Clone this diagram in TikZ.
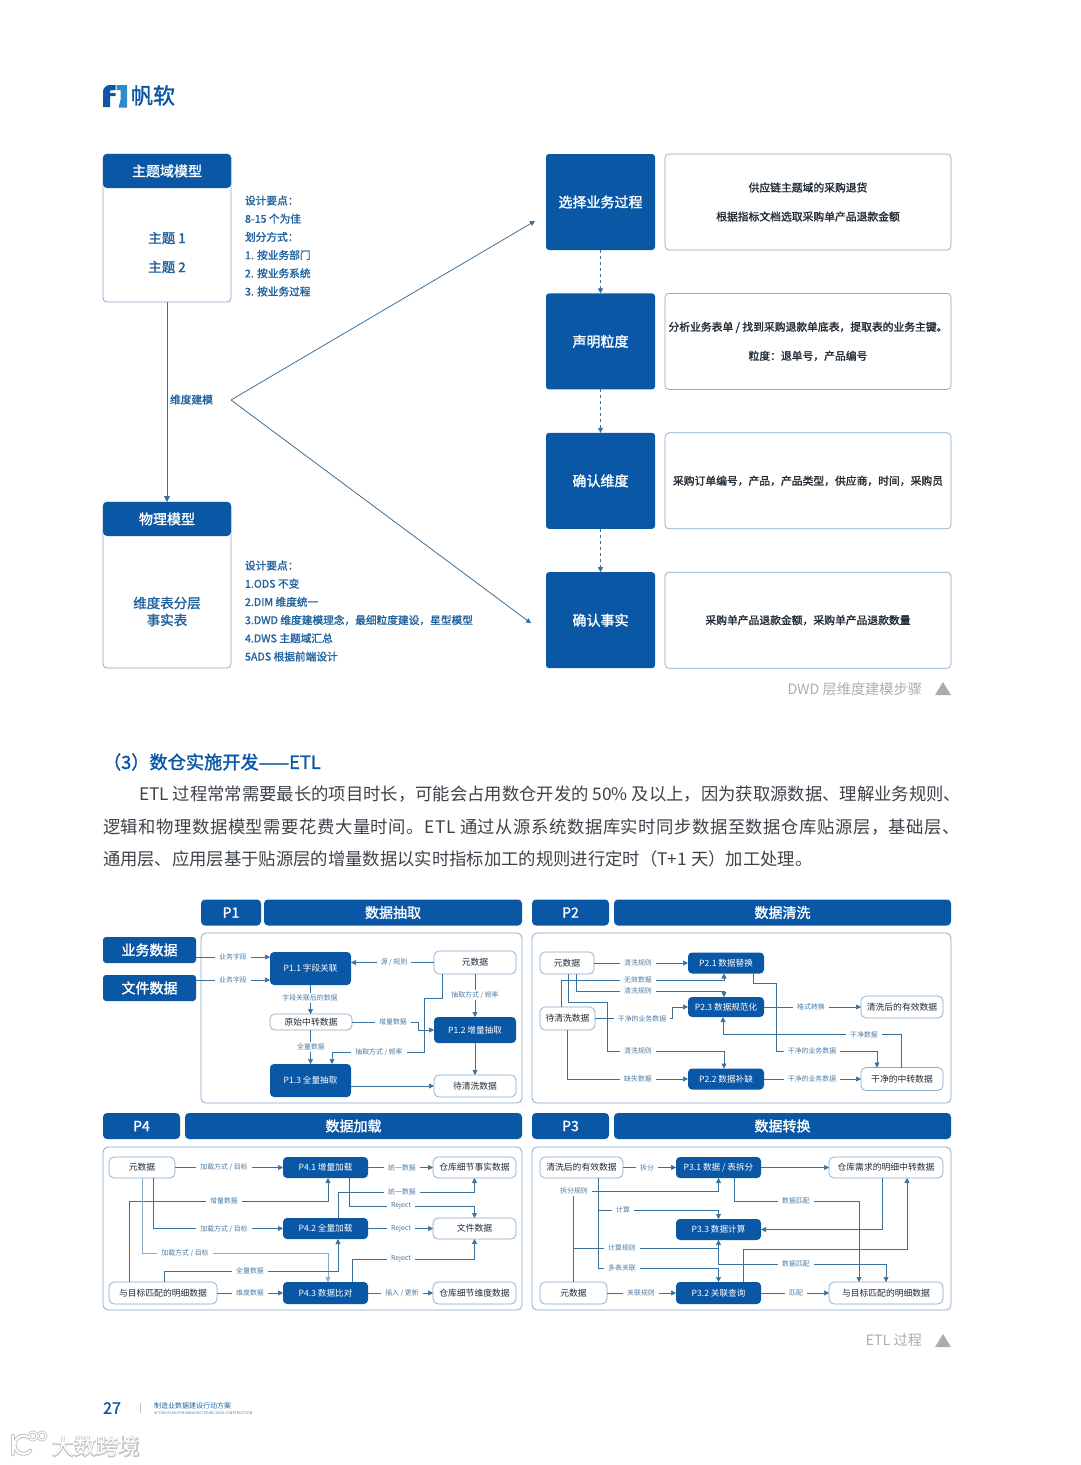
\documentclass[tikz,border=0pt]{standalone}
\usepackage{fontspec}
\setmainfont{Noto Sans CJK SC}
\newfontfamily\medfont[FakeBold=1.6]{Noto Sans CJK SC}
\newfontfamily\haloFont[FakeBold=6]{Noto Sans CJK SC}
\usetikzlibrary{positioning,arrows.meta}
\definecolor{brand}{HTML}{0A57A6}
\definecolor{brandlt}{HTML}{2E8BC9}
\definecolor{wire}{HTML}{3A7099}
\definecolor{edge}{HTML}{86ABCB}
\definecolor{note}{HTML}{22639F}
\definecolor{tag}{HTML}{4B7CA6}
\definecolor{inkd}{HTML}{232C34}
\definecolor{capt}{HTML}{A9ADB2}
\definecolor{copy}{HTML}{3D4248}
\definecolor{mark}{HTML}{C2C4C7}

\begin{document}
\begin{tikzpicture}[x=1pt,y=-1pt,
  outer sep=0pt,
  node distance=10pt,
  headbar/.style={fill=brand,rounded corners=4pt,text=white,font=\fontsize{14}{16}\selectfont\medfont},
  bodybox/.style={draw=edge,line width=0.8pt,fill=white,rounded corners=4pt},
  bodytxt/.style={text=note,align=center,font=\fontsize{13.5}{17}\selectfont\medfont},
  notes/.style={text=note,anchor=west,align=left,inner sep=0pt,font=\fontsize{10.7}{18.2}\selectfont\medfont},
  stepbox/.style={fill=brand,rounded corners=3pt,text=white,minimum width=109pt,minimum height=96pt,font=\fontsize{14}{16}\selectfont\medfont},
  infobox/.style={draw=edge,line width=0.7pt,rounded corners=4pt,minimum width=286pt,minimum height=96pt,align=center,text=inkd,font=\fontsize{10.8}{29}\selectfont\medfont},
  frame/.style={draw=edge,line width=0.8pt,rounded corners=5pt},
  srcbox/.style={headbar,rounded corners=3pt,minimum width=93pt,minimum height=26pt},
  prc/.style={fill=brand,rounded corners=4pt,text=white,font=\fontsize{8.6}{10}\selectfont},
  dat/.style={draw=edge,line width=0.7pt,fill=white,rounded corners=5pt,text=inkd,font=\fontsize{8.8}{10}\selectfont},
  lab/.style={fill=white,inner xsep=4pt,inner ysep=1.5pt,text=tag,font=\fontsize{6.9}{8}\selectfont},
  arr/.style={-{Triangle[length=6pt,width=6pt]},draw=wire,line width=0.8pt},
  flow/.style={-{Triangle[length=5pt,width=5pt]},draw=wire,line width=0.6pt},
  capnote/.style={text=capt,inner sep=0pt,font=\fontsize{14.2}{16}\selectfont},
  copyline/.style={text=copy,anchor=west,inner sep=0pt,font=\fontsize{17.33}{20}\selectfont}]
\useasboundingbox (0,0) rectangle (1080,1465);
% logo
\fill[brand] (103,107) -- (103,92) .. controls (103,88) and (106,85) .. (110,85) -- (115.5,85) -- (115.5,90) -- (110,90.5) -- (110,93) -- (115.5,93) -- (115.5,96) -- (110,96) -- (110,107) -- cycle;
\fill[brandlt] (116.5,85) -- (127,85) -- (127,107.5) -- (118.5,107.5) -- (120.5,100) -- (120.5,90) -- (116.5,90) -- cycle;
\node[anchor=west,inner sep=0pt,text=brand,font=\fontsize{22}{24}\selectfont\medfont] (brandname) at (131,95.5) {帆软};
% upper left
\node[bodybox,minimum width=128pt,minimum height=148pt] (topbody) at (167,228) {};
\node[headbar,minimum width=128pt,minimum height=34pt,anchor=north] (tophead) at (topbody.north) {主题域模型};
\node[bodytxt] (topic1) at (167,238) {主题 1};
\node[bodytxt] (topic2) at (167,267) {主题 2};
\node[notes] (topnotes) at (245,246) {设计要点：\\8-15 个为佳\\划分方式：\\1. 按业务部门\\2. 按业务系统\\3. 按业务过程};
\node[bodybox,minimum width=128pt,minimum height=166pt] (lowbody) at (167,585) {};
\node[headbar,minimum width=128pt,minimum height=34pt,anchor=north] (lowhead) at (lowbody.north) {物理模型};
\node[bodytxt] (lowtxt) at (167,611.5) {维度表分层\\事实表};
\node[notes] (lownotes) at (245,611) {设计要点：\\1.ODS 不变\\2.DIM 维度统一\\3.DWD 维度建模理念，最细粒度建设，星型模型\\4.DWS 主题域汇总\\5ADS 根据前端设计};
\draw[arr] (topbody) -- (lowhead);
\node[text=note,font=\fontsize{10.7}{12}\selectfont\medfont] (dimlab) at (191.5,399.5) {维度建模};
% steps
\node[stepbox] (proc) at (600.5,202) {选择业务过程};
\node[stepbox,below=43.4pt of proc] (grain) {声明粒度};
\node[stepbox,below=43.4pt of grain] (dims) {确认维度};
\node[stepbox,below=43.4pt of dims] (fact) {确认事实};
\node[infobox,right=of proc] (procinfo) {供应链主题域的采购退货\\根据指标文档选取采购单产品退款金额};
\node[infobox,right=of grain] (graininfo) {分析业务表单 / 找到采购退款单底表，提取表的业务主键。\\粒度：退单号，产品编号};
\node[infobox,right=of dims] (dimsinfo) {采购订单编号，产品，产品类型，供应商，时间，采购员};
\node[infobox,right=of fact] (factinfo) {采购单产品退款金额，采购单产品退款数量};
\draw[flow,dashed] (proc) -- (grain);
\draw[flow,dashed] (grain) -- (dims);
\draw[flow,dashed] (dims) -- (fact);
\coordinate (fork) at (231,400);
\coordinate (toproc) at ([xshift=-11pt,yshift=-19pt]proc.west);
\coordinate (tofact) at ([xshift=-15pt,yshift=-3pt]fact.west);
\draw[flow,line width=0.8pt] (fork) -- (toproc);
\draw[flow,line width=0.8pt] (fork) -- (tofact);
\node[capnote,anchor=east] (cap1) at (922,689) {DWD 层维度建模步骤};
\fill[capt] (935,695) -- (943,682) -- (951,695) -- cycle;
% text block
\node[anchor=west,inner sep=0pt,text=brand,font=\fontsize{18.2}{20}\selectfont\medfont] (etlhead) at (103,762) {（3）数仓实施开发——ETL};
\node[copyline] (line1) at (139,794) {ETL 过程常常需要最长的项目时长，可能会占用数仓开发的 50\% 及以上，因为获取源数据、理解业务规则、};
\node[copyline] (line2) at (103,827) {\addfontfeatures{LetterSpace=3.1}逻辑和物理数据模型需要花费大量时间。ETL 通过从源系统数据库实时同步数据至数据仓库贴源层，基础层、};
\node[copyline] (line3) at (103,859) {通用层、应用层基于贴源层的增量数据以实时指标加工的规则进行定时（T+1 天）加工处理。};
% P1
\node[headbar,minimum width=60pt,minimum height=26pt] (h1a) at (231,912.5) {P1};
\node[headbar,minimum width=258pt,minimum height=26pt] (h1b) at (393,912.5) {数据抽取};
\node[frame,minimum width=321pt,minimum height=170pt] (fr1) at (361.5,1018) {};
\node[srcbox] (biz) at (149.5,950) {业务数据};
\node[srcbox] (doc) at (149.5,988) {文件数据};
\node[prc,minimum width=81pt,minimum height=33pt] (p11) at (310.5,968.5) {P1.1 字段关联};
\node[dat,minimum width=82pt,minimum height=23pt] (m1) at (475,962.5) {元数据};
\node[dat,minimum width=82pt,minimum height=16pt] (raw) at (311,1022) {原始中转数据};
\node[prc,minimum width=82pt,minimum height=26pt] (p12) at (475,1030) {P1.2 增量抽取};
\node[prc,minimum width=81pt,minimum height=33pt] (p13) at (310.5,1080.5) {P1.3 全量抽取};
\node[dat,minimum width=82pt,minimum height=22pt] (wait) at (475,1086) {待清洗数据};
\draw[flow] ([yshift=-7pt]biz.east) -- ([yshift=11.5pt]p11.west);
\draw[flow] ([yshift=8pt]doc.east) -- ([yshift=-11.5pt]p11.west);
\draw[flow] (m1.west) -- ([yshift=6pt]p11.east);
\draw[flow] (p11.south) -- ([xshift=-0.5pt]raw.north);
\draw[flow] (m1.south) -- (p12.north);
\draw[flow] (raw.east) -- ++(66,0) |- (p12.west);
\draw[flow] ([xshift=-0.5pt]raw.south) -- (p13.north);
\draw[flow] ([xshift=-33pt]m1.south) -- ++(0,24) -- ++(-18,0) -- ++(0,54) -| ([xshift=21.5pt]p13.north);
\draw[flow] (p12.south) -- (wait.north);
\draw[flow] ([yshift=-5.5pt]p13.east) -- (wait.west);
\node[lab] (l11) at (233,957) {业务字段};
\node[lab] (l12) at (233,980) {业务字段};
\node[lab] (l13) at (394,962.5) {源 / 规则};
\node[lab] (l14) at (310,998) {字段关联后的数据};
\node[lab] (l15) at (475,995) {抽取方式 / 频率};
\node[lab] (l16) at (393,1022) {增量数据};
\node[lab] (l17) at (311,1047) {全量数据};
\node[lab] (l18) at (379,1052) {抽取方式 / 频率};
% P2
\node[headbar,minimum width=77pt,minimum height=26pt] (h2a) at (570.5,912.5) {P2};
\node[headbar,minimum width=337pt,minimum height=26pt] (h2b) at (782.5,912.5) {数据清洗};
\node[frame,minimum width=419pt,minimum height=170pt] (fr2) at (741.5,1018) {};
\node[dat,minimum width=54pt,minimum height=22pt] (m2) at (567,963) {元数据};
\node[dat,minimum width=55pt,minimum height=23pt] (wc) at (567.5,1018.5) {待清洗数据};
\node[prc,minimum width=76pt,minimum height=21pt] (p21) at (726,963) {P2.1 数据替换};
\node[prc,minimum width=76pt,minimum height=20pt] (p23) at (726,1007) {P2.3 数据规范化};
\node[prc,minimum width=76pt,minimum height=21pt] (p22) at (726,1079) {P2.2 数据补缺};
\node[dat,minimum width=82pt,minimum height=22pt] (clean) at (902,1007) {清洗后的有效数据};
\node[dat,minimum width=82pt,minimum height=23pt] (trans) at (902,1079) {干净的中转数据};
\draw[flow] (m2.east) -- (p21.west);
\draw[flow] ([xshift=-6.5pt]wc.north) -- ++(0,-27) -| ([xshift=-2pt]p21.south);
\draw[flow] ([xshift=9pt]m2.south) -- ++(0,17) -| ([xshift=-2pt]p23.north);
\draw[flow] ([xshift=1pt]m2.south) -- ++(0,28) -- ++(39,0) -- ++(0,49) -| ([xshift=-2pt]p22.north);
\draw[flow] (wc.east) -- ++(77,0) |- (p23.west);
\draw[flow] (wc.south) |- (p22.west);
\draw[flow] (p23.east) -- (clean.west);
\draw[flow] ([xshift=27pt]p21.south) -- ++(0,10) -- ++(23,0) -- ++(0,68) -| ([xshift=-25pt]trans.north);
\draw[flow] (p22.east) -- (trans.west);
\draw[flow] ([xshift=-1pt]trans.north) -- ++(0,-33) -| ([xshift=-3pt]p23.south);
\node[lab] (l21) at (638,963) {清洗规则};
\node[lab] (l22) at (638,980) {无效数据};
\node[lab] (l23) at (638,991) {清洗规则};
\node[lab] (l24) at (642,1019) {干净的业务数据};
\node[lab] (l25) at (638,1051) {清洗规则};
\node[lab] (l26) at (638,1079) {缺失数据};
\node[lab] (l27) at (811,1007) {格式转换};
\node[lab] (l28) at (864,1035) {干净数据};
\node[lab] (l29) at (812,1051) {干净的业务数据};
\node[lab] (l2a) at (812,1079) {干净的业务数据};
% P4
\node[headbar,minimum width=77pt,minimum height=26pt] (h4a) at (141.5,1126) {P4};
\node[headbar,minimum width=337pt,minimum height=26pt] (h4b) at (353.5,1126) {数据加载};
\node[frame,minimum width=419pt,minimum height=163pt] (fr4) at (312.5,1228.5) {};
\node[dat,minimum width=66pt,minimum height=21pt] (m4) at (142,1167.5) {元数据};
\node[prc,minimum width=85pt,minimum height=21pt] (p41) at (325.5,1167.5) {P4.1 增量加载};
\node[dat,minimum width=83pt,minimum height=21pt] (whfact) at (474.5,1167.5) {仓库细节事实数据};
\node[prc,minimum width=85pt,minimum height=21pt] (p42) at (325.5,1228.5) {P4.2 全量加载};
\node[dat,minimum width=83pt,minimum height=21pt] (fil) at (474.5,1228.5) {文件数据};
\node[dat,minimum width=108pt,minimum height=22pt] (tg4) at (163,1293) {与目标匹配的明细数据};
\node[prc,minimum width=85pt,minimum height=22pt] (p43) at (325.5,1293) {P4.3 数据比对};
\node[dat,minimum width=83pt,minimum height=22pt] (whdim) at (474.5,1293) {仓库细节维度数据};
\draw[flow] (m4.east) -- (p41.west);
\draw[flow] (p41.east) -- (whfact.west);
\draw[flow] ([xshift=-34pt]tg4.north) -- ++(0,-81) -| ([xshift=2.5pt]p41.south);
\draw[flow] ([xshift=11pt]m4.south) |- (p42.west);
\draw[flow,draw=edge] (m4.south) -- ++(0,75) -| ([xshift=2.5pt]p43.north);
\draw[flow] ([xshift=1pt]tg4.north) -- ++(0,-11) -| ([xshift=12.5pt]p42.south);
\draw[flow] (tg4.east) -- (p43.west);
\draw[flow] ([xshift=12.5pt]p42.north) -- ++(0,-26) -| (whfact.south);
\draw[flow] ([xshift=23.5pt]p41.south) -- ++(0,28) -| (fil.north);
\draw[flow] (p42.east) -- (fil.west);
\draw[flow] ([xshift=26.5pt]p43.north) -- ++(0,-23) -| (fil.south);
\draw[flow] (p43.east) -- (whdim.west);
\node[lab] (l41) at (224,1167.5) {加载方式 / 目标};
\node[lab] (l42) at (402,1167.5) {统一数据};
\node[lab] (l43) at (224,1201) {增量数据};
\node[lab] (l44) at (224,1229) {加载方式 / 目标};
\node[lab] (l45) at (185,1253) {加载方式 / 目标};
\node[lab] (l46) at (250,1271) {全量数据};
\node[lab] (l47) at (250,1293) {维度数据};
\node[lab] (l48) at (402,1192) {统一数据};
\node[lab] (l49) at (401,1206) {Reject};
\node[lab] (l4a) at (401,1229) {Reject};
\node[lab] (l4b) at (401,1259) {Reject};
\node[lab] (l4c) at (402,1293) {插入 / 更新};
% P3
\node[headbar,minimum width=77pt,minimum height=26pt] (h3a) at (570.5,1126) {P3};
\node[headbar,minimum width=337pt,minimum height=26pt] (h3b) at (782.5,1126) {数据转换};
\node[frame,minimum width=419pt,minimum height=163pt] (fr3) at (741.5,1228.5) {};
\node[dat,minimum width=83pt,minimum height=21pt] (cl3) at (581.5,1167.5) {清洗后的有效数据};
\node[prc,minimum width=85pt,minimum height=21pt] (p31) at (718.5,1167.5) {P3.1 数据 / 表拆分};
\node[dat,minimum width=114pt,minimum height=21pt] (need) at (886,1167.5) {仓库需求的明细中转数据};
\node[prc,minimum width=85pt,minimum height=21pt] (p33) at (718.5,1229.5) {P3.3 数据计算};
\node[dat,minimum width=67pt,minimum height=22pt] (m3) at (573.5,1293) {元数据};
\node[prc,minimum width=85pt,minimum height=22pt] (p32) at (718.5,1293) {P3.2 关联查询};
\node[dat,minimum width=114pt,minimum height=22pt] (tg3) at (886,1293) {与目标匹配的明细数据};
\draw[flow] (cl3.east) -- (p31.west);
\draw[flow] (p31.east) -- (need.west);
\draw[flow] (m3.north) -- ++(0,-91) -| (p31.south);
\draw[flow] ([xshift=16.5pt]cl3.south) -- ++(0,32) -| (p33.north);
\draw[flow] ([xshift=16.5pt]cl3.south) -- ++(0,90) -| (p32.north);
\draw[flow] (m3.north) -- ++(0,-34) -| (p33.south);
\draw[flow] (m3.east) -- (p32.west);
\draw[flow] (p32.east) -- (tg3.west);
\draw[flow] ([xshift=15.5pt]p31.south) -- ++(0,23) -| ([xshift=-27pt]tg3.north);
\draw[flow] ([xshift=-4pt]need.south) |- (p33.east);
\draw[flow] ([xshift=24.5pt]p32.north) -- ++(0,-33) -| ([xshift=21pt]need.south);
\draw[flow] (p33.south) -- ++(0,24) -| (tg3.north);
\node[lab] (l31) at (647,1167.5) {拆分};
\node[lab] (l32) at (574,1191) {拆分规则};
\node[lab] (l33) at (623,1210) {计算};
\node[lab] (l34) at (622,1248) {计算规则};
\node[lab] (l35) at (622,1268) {多表关联};
\node[lab] (l36) at (641,1293) {关联规则};
\node[lab] (l37) at (796,1293) {匹配};
\node[lab] (l38) at (796,1201) {数据匹配};
\node[lab] (l39) at (796,1264) {数据匹配};
\node[capnote,anchor=east] (cap2) at (922,1340) {ETL 过程};
\fill[capt] (935,1347) -- (943,1334) -- (951,1347) -- cycle;
% footer
\node[text=brand,font=\fontsize{16}{18}\selectfont\medfont] (pageno) at (112,1408) {27};
\draw[draw=mark,line width=0.6pt] (140,1403) -- (140,1413);
\node[anchor=west,inner sep=0pt,text=note,font=\fontsize{7}{8}\selectfont] (foot1) at (154,1405.5) {制造业数据建设行动方案};
\node[anchor=west,inner sep=0pt,text=tag,font=\fontsize{3.6}{4}\selectfont] (foot2) at (154,1413) {ACTION PLAN FOR MANUFACTURING DATA CONSTRUCTION};
% watermark
\draw[draw=mark,line width=4.5pt,line cap=round] (13,1436) -- (13,1454);
\draw[draw=mark,line width=4pt,line cap=round] (28,1437) arc[start angle=60,end angle=320,radius=9pt];
\draw[draw=mark,line width=3pt] (33,1436) circle (4);
\draw[draw=mark,line width=3pt] (42,1436) circle (4);
\draw[draw=white,line width=2.5pt,line cap=round] (13,1436) -- (13,1454);
\draw[draw=white,line width=2pt,line cap=round] (28,1437) arc[start angle=60,end angle=320,radius=9pt];
\draw[draw=white,line width=1.2pt] (33,1436) circle (4);
\draw[draw=white,line width=1.2pt] (42,1436) circle (4);
\node[text=mark,font=\fontsize{22}{24}\selectfont\haloFont] (wmshade) at (96,1446.5) {大数跨境};
\node[text=white,font=\fontsize{22}{24}\selectfont] (wmark) at (96,1446.5) {大数跨境};
\end{tikzpicture}
\end{document}
